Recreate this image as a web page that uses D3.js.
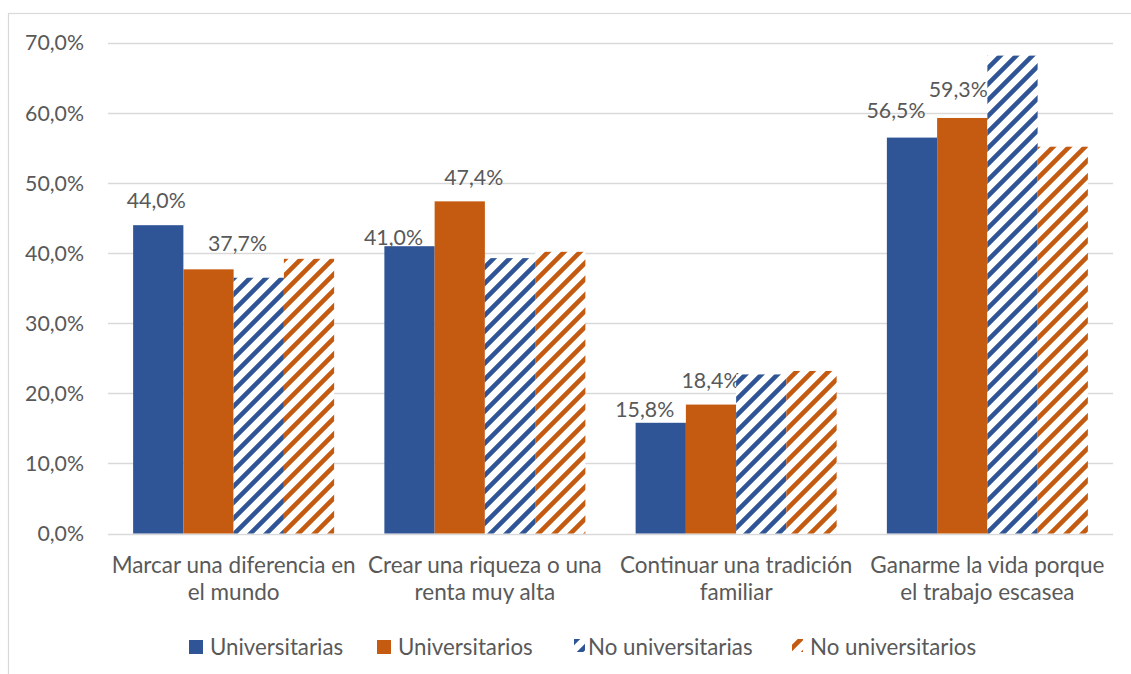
<!DOCTYPE html>
<html><head><meta charset="utf-8">
<script src="https://cdn.jsdelivr.net/npm/d3@7"></script>
<style>
body{margin:0;background:#fff;}
text{font-family:Lato,"Open Sans",sans-serif;fill:#595959;}
</style></head>
<body><svg id="c" width="1131" height="674"></svg>
<script>
const categories = [
  ["Marcar una diferencia en","el mundo"],
  ["Crear una riqueza o una","renta muy alta"],
  ["Continuar una tradición","familiar"],
  ["Ganarme la vida porque","el trabajo escasea"]
];
const seriesNames = ["Universitarias","Universitarios","No universitarias","No universitarios"];
const universitarias   = [44.0, 41.0, 15.8, 56.5];
const universitarios   = [37.7, 47.4, 18.4, 59.3];
const noUniversitarias = [36.5, 39.3, 22.7, 68.2];
const noUniversitarios = [39.2, 40.2, 23.2, 55.2];
const yTicks = [0,10,20,30,40,50,60,70];

const series = [universitarias, universitarios, noUniversitarias, noUniversitarios];
const colors = ["#2F5597","#C55A11","#2F5597","#C55A11"];
const hatched = [false,false,true,true];
const labelled = [true,true,false,false];
// manual data-label offsets (dx, dy from bar centre/top), as in the source
const labelShift = [
  [[-2,-25],[-16,-9],[-16,-13],[-16,-27]],
  [[29,-26],[14,-24],[0,-24],[-4,-28]]
];

const svg = d3.select("#c");
const defs = svg.append("defs");
colors.forEach((c,i)=>{
  if(!hatched[i]) return;
  const p = defs.append("pattern").attr("id","h"+i)
    .attr("patternUnits","userSpaceOnUse").attr("width",16).attr("height",16);
  p.append("rect").attr("width",16).attr("height",16).attr("fill","#fff");
  p.append("path").attr("d","M-4,4 L4,-4 M0,16 L16,0 M12,20 L20,12")
    .attr("stroke",c).attr("stroke-width",4.6).attr("stroke-linecap","square");
});

// chart-area border
svg.append("rect").attr("x",8.5).attr("y",13.5).attr("width",1200).attr("height",700)
  .attr("fill","none").attr("stroke","#d9d9d9").attr("stroke-width",1.2);

const pL=108, pR=1113, pT=43, pB=533.5;
const x0 = d3.scaleBand().domain(d3.range(categories.length)).range([pL,pR]).paddingInner(0.2).paddingOuter(0.1);
const x1 = d3.scaleBand().domain(d3.range(series.length)).range([0,x0.bandwidth()]);
const y = d3.scaleLinear().domain([0,70]).range([pB,pT]);

const fmt = v => d3.format(".1f")(v).replace(".",",")+"%";

svg.append("g").selectAll("line").data(yTicks).join("line")
  .attr("x1",pL).attr("x2",pR)
  .attr("y1",d=>Math.round(y(d))+0.5).attr("y2",d=>Math.round(y(d))+0.5)
  .attr("stroke","#d9d9d9").attr("stroke-width",1.3);

svg.append("g").selectAll("text").data(yTicks).join("text")
  .attr("x",84).attr("y",d=>y(d)).attr("dy","0.35em").attr("text-anchor","end")
  .style("font-size","21.3px").text(d=>fmt(d));

const g = svg.append("g");
series.forEach((vals,si)=>{
  g.append("g").selectAll("rect").data(vals).join("rect")
    .attr("x",(d,ci)=>x0(ci)+x1(si)).attr("width",x1.bandwidth())
    .attr("y",d=>y(d)).attr("height",d=>y(0)-y(d))
    .attr("fill",hatched[si]?`url(#h${si})`:colors[si]);
  if(labelled[si]){
    g.append("g").selectAll("text").data(vals).join("text")
      .attr("x",(d,ci)=>x0(ci)+x1(si)+x1.bandwidth()/2+labelShift[si][ci][0])
      .attr("y",(d,ci)=>y(d)+labelShift[si][ci][1])
      .attr("dy","0.35em").attr("text-anchor","middle")
      .style("font-size","21.3px").text(d=>fmt(d));
  }
});

// category labels
const cl = svg.append("g").selectAll("text").data(categories).join("text")
  .attr("text-anchor","middle").style("font-size","22.5px");
cl.each(function(lines,ci){
  const t=d3.select(this);
  lines.forEach((l,li)=>t.append("tspan").attr("x",x0(ci)+x0.bandwidth()/2)
    .attr("y",565+li*27).attr("dy","0.35em").text(l));
});

// legend
const legX = [189,377,570,788];
const legTextX = [210,398,588,810];
const leg = svg.append("g");
seriesNames.forEach((n,i)=>{
  if(hatched[i]){
    leg.append("rect").attr("x",legX[i]+4).attr("y",639).attr("width",11).attr("height",13)
      .attr("fill",`url(#h${i})`);
  } else {
    leg.append("rect").attr("x",legX[i]).attr("y",640).attr("width",14).attr("height",14).attr("fill",colors[i]);
  }
  leg.append("text").attr("x",legTextX[i]).attr("y",647).attr("dy","0.35em")
    .style("font-size","22.3px").text(n);
});
</script></body></html>
